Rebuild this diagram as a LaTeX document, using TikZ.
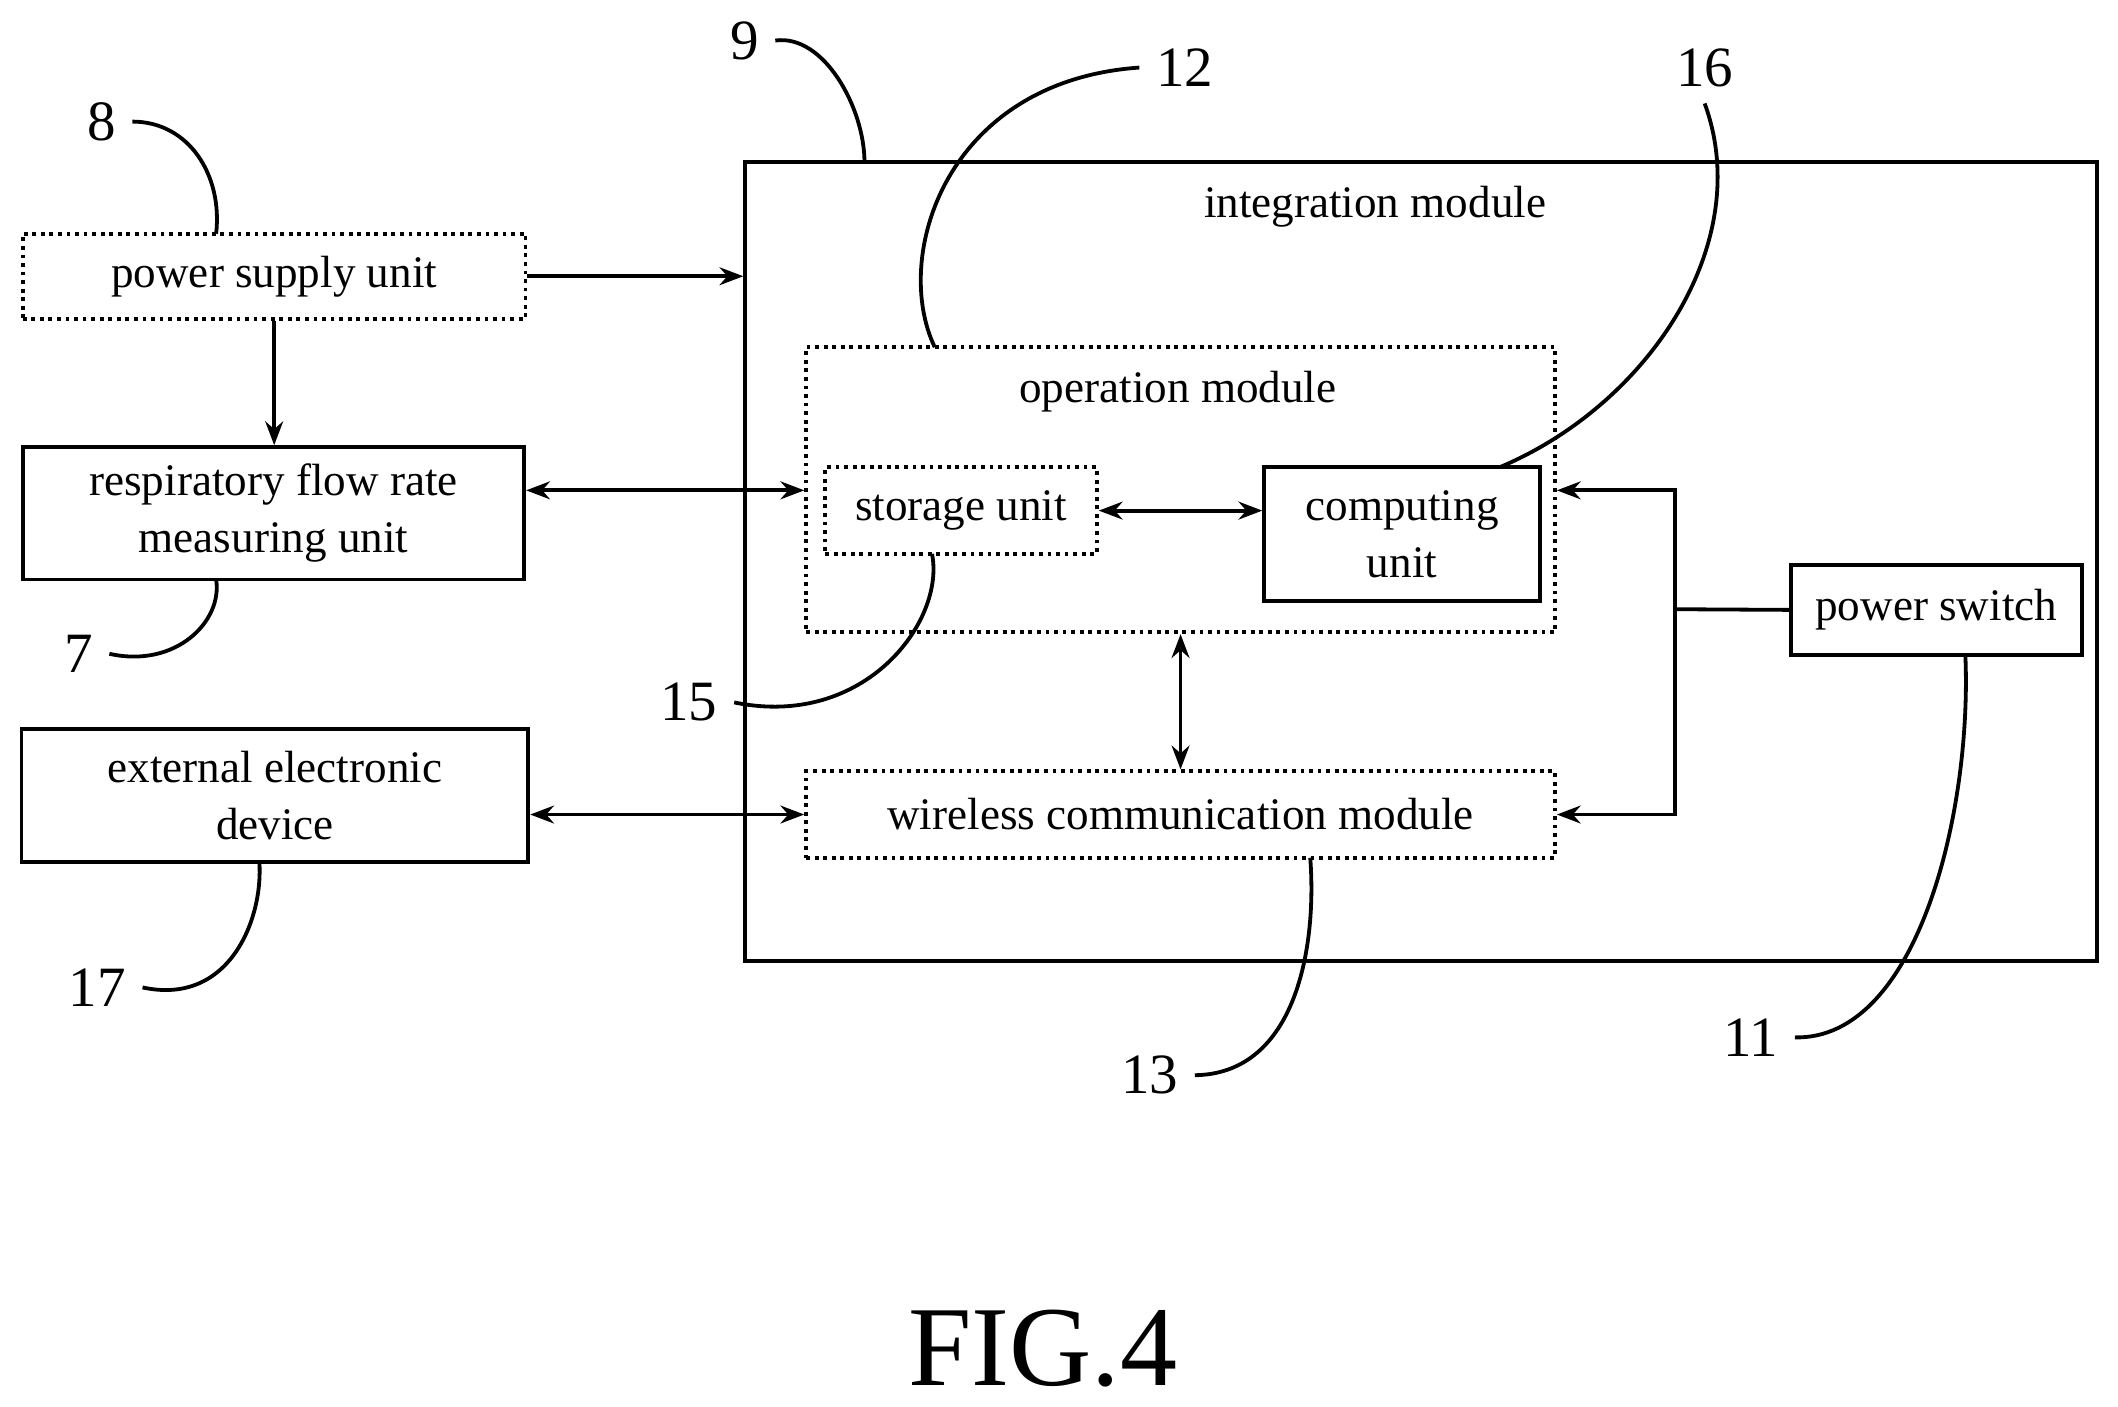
\documentclass[tikz,border=0pt]{standalone}
\usepackage{fontspec}
\setmainfont{Liberation Serif}
\usetikzlibrary{arrows.meta}
\tikzset{
  blk/.style={draw,thick,align=center,inner sep=0pt,font=\fontsize{9.5}{12}\selectfont},
  dblk/.style={blk,densely dotted},
  arr/.style={-{Stealth[length=5pt]},thick},
  darr/.style={{Stealth[length=5pt]}-{Stealth[length=5pt]},thick},
  lead/.style={thick},
  num/.style={font=\fontsize{12}{14}\selectfont}
}
\begin{document}
\begin{tikzpicture}[x=0.01cm,y=-0.01cm]
        \useasboundingbox (0,0) rectangle (1568,1041);
        %% boxes
        \node[blk,minimum width=10cm,minimum height=5.91cm] (integ) at (1052,415.5) {};
        \node[font=\fontsize{9.5}{12}\selectfont] (integlbl) at (1018,153) {integration module};
        \node[dblk,minimum width=3.72cm,minimum height=0.63cm] (supply) at (203,204.5) {power supply unit};
        \node[blk,minimum width=3.71cm,minimum height=0.98cm] (resp) at (202.5,380) {respiratory flow rate\\measuring unit};
        \node[blk,minimum width=3.75cm,minimum height=0.98cm] (ext) at (203.5,589) {external electronic\\device};
        \node[dblk,minimum width=5.54cm,minimum height=2.11cm] (oper) at (874,362.5) {};
        \node[font=\fontsize{9.5}{12}\selectfont] (operlbl) at (872,290) {operation module};
        \node[dblk,minimum width=2.01cm,minimum height=0.64cm] (store) at (711.5,378) {storage unit};
        \node[blk,minimum width=2.04cm,minimum height=0.99cm] (comp) at (1038,395.5) {computing\\unit};
        \node[dblk,minimum width=5.54cm,minimum height=0.64cm] (wless) at (874,603) {wireless communication module};
        \node[blk,minimum width=2.15cm,minimum height=0.67cm] (switch) at (1433.5,451.5) {power switch};
        \coordinate (jn) at (1240,451);
        %% connectors
        \draw[arr] (supply.east) -- (supply.east -| integ.west);
        \draw[arr] (supply.south) -- (supply.south |- resp.north);
        \draw[darr] (resp.east |- 0,363) -- (oper.west |- 0,363);
        \draw[darr] (store.east) -- (store.east -| comp.west);
        \draw[darr] (oper.south) -- (wless.north);
        \draw[darr] (ext.east |- wless.west) -- (wless.west);
        \draw[thick] (switch.west) -- (jn);
        \draw[arr] (jn) |- (oper.east |- 0,363);
        \draw[arr] (jn) |- (wless.east);
        %% reference numerals
        \node[num] (n8) at (75,90) {8};
        \draw[lead] (n8.east) .. controls (140,90) and (165,130) .. (160,173);
        \node[num] (n7) at (58,484) {7};
        \draw[lead] (n7.east) .. controls (130,495) and (165,460) .. (160,429);
        \node[num] (n17) at (72,731) {17};
        \draw[lead] (n17.east) .. controls (170,745) and (195,680) .. (192,638);
        \node[num] (n9) at (551,30) {9};
        \draw[lead] (n9.east) .. controls (610,25) and (640,80) .. (640,120);
        \node[num] (n12) at (877,50) {12};
        \draw[lead] (n12.west) .. controls (700,60) and (660,190) .. (692,257);
        \node[num] (n16) at (1262,50) {16};
        \draw[lead] (n16.south) .. controls (1300,180) and (1220,300) .. (1110,346);
        \node[num] (n15) at (510,520) {15};
        \draw[lead] (n15.east) .. controls (640,540) and (700,460) .. (690,410);
        \node[num] (n13) at (851,796) {13};
        \draw[lead] (n13.east) .. controls (960,795) and (975,700) .. (970,635);
        \node[num] (n11) at (1296,768) {11};
        \draw[lead] (n11.east) .. controls (1420,770) and (1460,600) .. (1455,485);
        \node[font=\fontsize{24}{28}\selectfont] (fig) at (772,998) {FIG.4};
\end{tikzpicture}
\end{document}
